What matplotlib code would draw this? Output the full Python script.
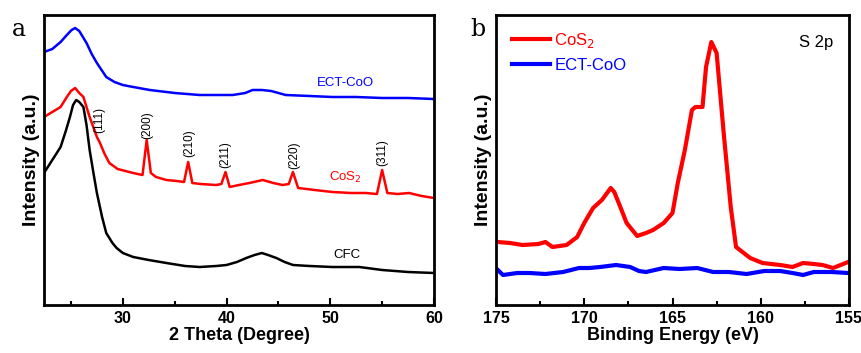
import matplotlib.pyplot as plt

plt.rcParams['font.family'] = ['Liberation Sans', 'DejaVu Sans']

# ---- panel a: XRD (y in arbitrary units) ----
ect_x = [22.4, 23.2, 24.0, 24.6, 25.06, 25.4, 25.8, 26.5, 27.0, 27.5, 28.4, 29.2, 30.0,
         31.0, 32.6, 35.0, 37.4, 40.6, 41.8, 42.5, 43.4, 44.3, 45.7, 48.0, 50.2, 52.5,
         55.0, 57.5, 60.0]
ect_y = [253, 256, 263, 270, 275, 277, 274, 262, 251, 242, 228, 223, 220,
         218, 215, 212, 210, 210, 212, 215, 215, 214, 210, 209, 208, 208,
         207, 207, 206]

cos2_x = [22.4, 23.2, 24.0, 24.6, 25.0, 25.4, 25.8, 26.2, 26.8, 27.5, 27.8, 28.2, 28.7,
          29.5, 31.0, 31.9, 32.3, 32.7, 33.2, 34.2, 35.2, 35.9, 36.3, 36.7, 37.5, 39.0,
          39.5, 39.9, 40.3, 41.2, 42.2, 43.5, 44.5, 45.4, 46.0, 46.4, 46.9, 48.5, 50.2,
          52.0, 53.4, 54.5, 55.0, 55.5, 56.5, 57.6, 58.8, 60.0]
cos2_y = [188, 193, 198, 208, 214, 217, 212, 208, 188, 168, 162, 152, 142,
          136, 132, 130, 165, 132, 128, 125, 124, 123, 143, 122, 121, 120,
          121, 133, 118, 120, 122, 125, 122, 120, 121, 133, 117, 115, 113,
          112, 112, 111, 135, 112, 111, 112, 109, 107]

cfc_x = [22.4, 23.2, 24.0, 24.5, 24.9, 25.2, 25.5, 25.8, 26.2, 26.5, 26.8, 27.2, 27.5,
         28.0, 28.4, 29.0, 29.4, 30.0, 31.0, 32.5, 34.2, 36.0, 37.4, 39.0, 40.0, 41.0,
         41.9, 42.7, 43.4, 44.0, 44.8, 45.6, 46.4, 48.0, 50.2, 52.8, 55.0, 57.5, 60.0]
cfc_y = [132, 145, 158, 174, 188, 200, 205, 203, 198, 180, 155, 130, 112,
         88, 72, 62, 57, 52, 48, 45, 42, 39, 38, 39, 40, 43,
         47, 50, 52, 50, 47, 43, 40, 39, 38, 38, 35, 33, 32]

hkl_labels = ['(111)', '(200)', '(210)', '(211)', '(220)', '(311)']
hkl_x = [27.7, 32.4, 36.4, 39.9, 46.5, 55.0]
hkl_y = [185, 180, 162, 150, 150, 152]

# ---- panel b: XPS S 2p ----
xps_red_x = [174.9, 174.2, 173.5, 172.6, 172.2, 171.8, 171.0, 170.4, 170.0, 169.5, 169.0,
             168.5, 168.3, 168.0, 167.6, 167.0, 166.5, 166.1, 165.5, 165.0, 164.7, 164.3,
             163.9, 163.7, 163.3, 163.1, 162.8, 162.5, 162.1, 161.7, 161.4, 160.6, 159.9,
             158.9, 158.2, 157.6, 157.0, 156.5, 155.9, 155.05]
xps_red_y = [63, 62, 60, 61, 63, 58, 60, 68, 82, 97, 105, 117, 113, 100, 82, 69, 72, 75,
             82, 92, 122, 155, 195, 198, 198, 238, 263, 252, 172, 98, 58, 47, 42,
             40, 38, 42, 41, 40, 37, 43]

xps_blue_x = [174.9, 174.6, 173.8, 173.1, 172.2, 171.2, 170.3, 169.7, 169.1, 168.2, 167.4,
              166.9, 166.5, 166.0, 165.5, 164.6, 163.6, 162.7, 161.8, 160.8, 159.8, 158.9,
              158.2, 157.6, 157.0, 156.0, 155.05]
xps_blue_y = [35, 30, 32, 32, 31, 33, 37, 37, 38, 40, 38, 34, 33, 35, 37, 36, 37, 33, 33,
              31, 34, 34, 32, 30, 33, 33, 32]

fig = plt.figure(figsize=(8.61, 3.53), dpi=100)
ax1 = fig.add_axes([44 / 861, 48 / 353, 390 / 861, 290 / 353])
ax2 = fig.add_axes([496 / 861, 48 / 353, 353 / 861, 290 / 353])

ax1.plot(ect_x, ect_y, color='#0000ff', lw=1.8)
ax1.plot(cos2_x, cos2_y, color='#ff0000', lw=1.8)
ax1.plot(cfc_x, cfc_y, color='black', lw=1.8)
for lab, x, y in zip(hkl_labels, hkl_x, hkl_y):
    ax1.text(x, y, lab, rotation=90, ha='center', va='center', fontsize=8.5)
ax1.text(51.5, 222, 'ECT-CoO', color='#0000ff', ha='center', va='center', fontsize=9.5)
ax1.text(51.5, 128, 'CoS$_2$', color='#ff0000', ha='center', va='center', fontsize=9.5)
ax1.text(51.6, 50, 'CFC', color='black', ha='center', va='center', fontsize=9.5)
ax1.set_xlim(22.4, 60)
ax1.set_ylim(0, 290)
ax1.set_xticks([30, 40, 50, 60])
ax1.set_xticks([25, 35, 45, 55], minor=True)
ax1.set_xlabel('2 Theta (Degree)', fontsize=13, fontweight='bold', labelpad=1)
ax1.set_ylabel('Intensity (a.u.)', fontsize=14, fontweight='bold', labelpad=3)

ax2.plot(xps_red_x, xps_red_y, color='#ff0000', lw=3, label='CoS$_2$')
ax2.plot(xps_blue_x, xps_blue_y, color='#0000ff', lw=3, label='ECT-CoO')
leg = ax2.legend(loc='upper left', bbox_to_anchor=(0.045, 0.945), frameon=False,
                 fontsize=12, handlelength=2.3, handletextpad=0.25, borderaxespad=0,
                 borderpad=0, labelspacing=0.5)
for txt, c in zip(leg.get_texts(), ['#ff0000', '#0000ff']):
    txt.set_color(c)
ax2.text(0.955, 0.905, 'S 2p', transform=ax2.transAxes, ha='right', va='center', fontsize=12)
ax2.set_xlim(175, 155)
ax2.set_ylim(0, 290)
ax2.set_xticks([175, 170, 165, 160, 155])
ax2.set_xticks([172.5, 167.5, 162.5, 157.5], minor=True)
ax2.set_xlabel('Binding Energy (eV)', fontsize=13, fontweight='bold', labelpad=1)
ax2.set_ylabel('Intensity (a.u.)', fontsize=14, fontweight='bold', labelpad=3)

for ax in (ax1, ax2):
    ax.set_yticks([])
    for s in ax.spines.values():
        s.set_linewidth(2)
    ax.tick_params(axis='x', which='both', direction='in', width=1.5, labelsize=11.5, pad=4)
    ax.tick_params(axis='x', which='major', length=5)
    ax.tick_params(axis='x', which='minor', length=3)
    for t in ax.get_xticklabels():
        t.set_fontweight('bold')

fig.text(12 / 861, 1 - 30 / 353, 'a', fontsize=17, family='DejaVu Serif', va='center')
fig.text(470 / 861, 1 - 30 / 353, 'b', fontsize=17, family='DejaVu Serif', va='center')

fig.savefig('out.png', dpi=100)
